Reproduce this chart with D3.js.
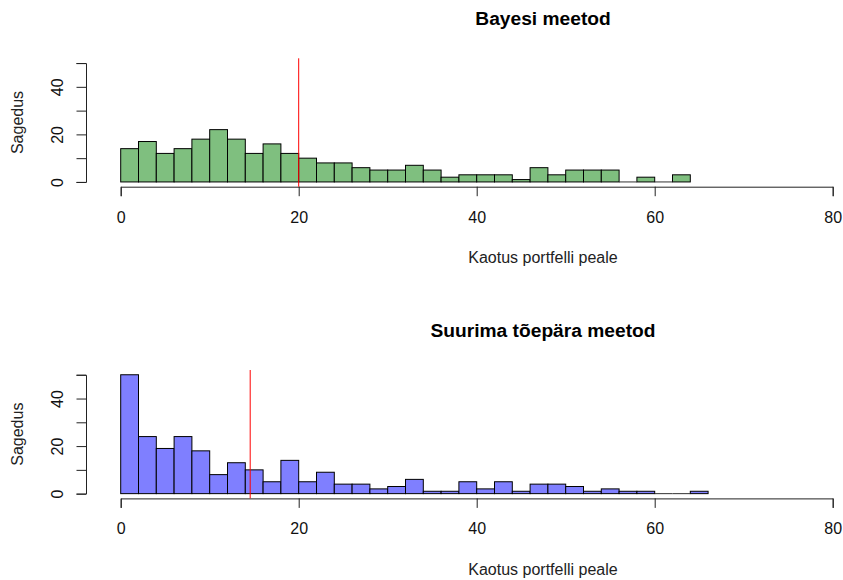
<!DOCTYPE html>
<html>
<head>
<meta charset="utf-8">
<script src="https://cdn.jsdelivr.net/npm/d3@7"></script>
<style>
  body { margin: 0; background: #fff; }
  svg { display: block; font-family: "Liberation Sans", Arial, sans-serif; }
  .axis path, .axis line { stroke: #222; }
</style>
</head>
<body>
<div id="chart"></div>
<script>
// histogram counts, bin width 2 starting at 0
const binWidth = 2;
const bayesCounts = [14, 17, 12, 14, 18, 22, 18, 12, 16, 12, 10, 8, 8, 6, 5, 5, 7, 5, 2, 3, 3, 3, 1, 6, 3, 5, 5, 5, 0, 2, 0, 3];
const mleCounts = [50, 24, 19, 24, 18, 8, 13, 10, 5, 14, 5, 9, 4, 4, 2, 3, 6, 1, 1, 5, 2, 5, 1, 4, 4, 3, 1, 2, 1, 1, 0, 0, 1];
const panelTitles = ['Bayesi meetod', 'Suurima tõepära meetod'];
const vLines = [20.0, 14.55];
const xTicks = [0, 20, 40, 60, 80];
const yTicks = [0, 10, 20, 30, 40, 50];
const yTickLabels = [0, 20, 40];
const xLabel = 'Kaotus portfelli peale';
const yLabel = 'Sagedus';

const width = 843, height = 580;
const svg = d3.select('#chart').append('svg')
    .attr('width', width).attr('height', height);

const x = d3.scaleLinear().domain([0, 80]).range([120.7, 832.7]);
const y = d3.scaleLinear().domain([-2, 52]).range([186.7, 58.3]);
const plotLeft = 86, centerX = 543;

function drawPanel(counts, fill, title, vline, offsetY) {
    const g = svg.append('g').attr('transform', `translate(0,${offsetY})`);

    g.append('text')
        .attr('x', centerX).attr('y', 25)
        .attr('text-anchor', 'middle')
        .attr('font-weight', 'bold')
        .attr('font-size', '19.2px')
        .attr('fill', '#000')
        .text(title);

    g.selectAll('rect.bar').data(counts).enter().append('rect')
        .attr('class', 'bar')
        .attr('x', (d, i) => x(i * binWidth))
        .attr('width', x(binWidth) - x(0))
        .attr('y', d => y(d))
        .attr('height', d => y(0) - y(d))
        .attr('fill', fill)
        .attr('stroke', '#000')
        .attr('stroke-width', 1);

    // empty bins still show as a flat line on the baseline
    g.selectAll('line.zero').data(counts.map((d, i) => ({ d, i })).filter(o => o.d === 0))
        .enter().append('line')
        .attr('class', 'zero')
        .attr('x1', o => x(o.i * binWidth))
        .attr('x2', o => x((o.i + 1) * binWidth))
        .attr('y1', y(0)).attr('y2', y(0))
        .attr('stroke', '#333')
        .attr('stroke-width', 1);

    // x axis at bottom of plot region
    const xAxisG = g.append('g').attr('class', 'axis')
        .attr('transform', `translate(0,${y.range()[0]})`)
        .call(d3.axisBottom(x).tickValues(xTicks).tickSizeOuter(0).tickSize(9.5));
    xAxisG.selectAll('text')
        .attr('y', 36).attr('dy', 0)
        .attr('font-size', '16px')
        .attr('font-family', '"Liberation Sans", Arial, sans-serif')
        .attr('fill', '#111');

    // y axis at left of plot region
    const yAxisScale = d3.scaleLinear().domain([0, 50]).range([y(0), y(50)]);
    const yAxisG = g.append('g').attr('class', 'axis')
        .attr('transform', `translate(${plotLeft},0)`)
        .call(d3.axisLeft(yAxisScale).tickValues(yTicks).tickSizeOuter(0).tickSize(9.5)
            .tickFormat(v => yTickLabels.includes(v) ? v : ''));
    yAxisG.selectAll('text')
        .attr('x', 0).attr('dy', 0)
        .attr('transform', 'translate(-23.5,0) rotate(-90)')
        .attr('text-anchor', 'middle')
        .attr('font-size', '16px')
        .attr('font-family', '"Liberation Sans", Arial, sans-serif')
        .attr('fill', '#111');

    g.append('text')
        .attr('transform', `translate(23,${(y.range()[0] + y.range()[1]) / 2}) rotate(-90)`)
        .attr('text-anchor', 'middle')
        .attr('font-size', '16px')
        .attr('fill', '#222')
        .text(yLabel);

    g.append('text')
        .attr('x', centerX).attr('y', 263)
        .attr('text-anchor', 'middle')
        .attr('font-size', '16px')
        .attr('fill', '#222')
        .text(xLabel);

    g.append('line')
        .attr('x1', x(vline)).attr('x2', x(vline))
        .attr('y1', y.range()[1]).attr('y2', y.range()[0])
        .attr('stroke', 'red')
        .attr('stroke-width', 1);
}

drawPanel(bayesCounts, 'rgb(127,191,127)', panelTitles[0], vLines[0], 0);
drawPanel(mleCounts, 'rgb(127,127,255)', panelTitles[1], vLines[1], 311.7);
</script>
</body>
</html>
